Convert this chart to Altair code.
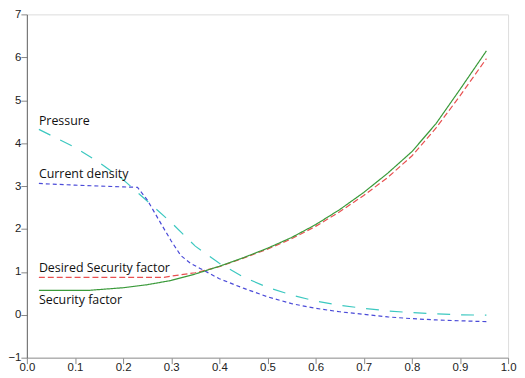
import altair as alt
import pandas as pd

# ---- data ----
pressure_x = [0.025, 0.1, 0.15, 0.2, 0.25, 0.3, 0.35, 0.4, 0.45, 0.5, 0.55, 0.6, 0.65, 0.7, 0.75, 0.8, 0.85, 0.9, 0.955]
pressure_y = [4.32, 3.9, 3.55, 3.15, 2.65, 2.15, 1.6, 1.2, 0.88, 0.64, 0.46, 0.32, 0.22, 0.15, 0.09, 0.05, 0.02, 0.0, -0.01]

current_x = [0.025, 0.1, 0.2, 0.23, 0.25, 0.28, 0.3, 0.32, 0.34, 0.36, 0.4, 0.45, 0.5, 0.55, 0.6, 0.65, 0.7, 0.75, 0.8, 0.85, 0.9, 0.955]
current_y = [3.06, 3.02, 2.98, 2.97, 2.68, 2.1, 1.72, 1.38, 1.2, 1.08, 0.84, 0.62, 0.42, 0.26, 0.15, 0.07, 0.01, -0.05, -0.09, -0.12, -0.14, -0.16]

desired_x = [0.025, 0.285, 0.3, 0.35, 0.4, 0.45, 0.5, 0.55, 0.6, 0.65, 0.7, 0.75, 0.8, 0.85, 0.9, 0.955]
desired_y = [0.87, 0.87, 0.9, 0.98, 1.12, 1.32, 1.53, 1.77, 2.06, 2.4, 2.78, 3.2, 3.7, 4.35, 5.1, 5.97]

security_x = [0.025, 0.13, 0.2, 0.25, 0.3, 0.35, 0.4, 0.45, 0.5, 0.55, 0.6, 0.65, 0.7, 0.75, 0.8, 0.85, 0.9, 0.955]
security_y = [0.57, 0.57, 0.63, 0.7, 0.8, 0.95, 1.13, 1.33, 1.55, 1.8, 2.1, 2.45, 2.85, 3.3, 3.8, 4.45, 5.25, 6.15]

series_names = ["Pressure", "Current density", "Desired Security factor", "Security factor"]
series_colors = ["#3cc8c0", "#4a4ad8", "#e85050", "#3a9a3a"]
series_dashes = [[13, 11], [4, 3], [6, 3], [1, 0]]

label_x = [0.025, 0.025, 0.025, 0.025]
label_y = [4.52, 3.28, 1.1, 0.35]

rows = []
for name, xs, ys in [
    ("Pressure", pressure_x, pressure_y),
    ("Current density", current_x, current_y),
    ("Desired Security factor", desired_x, desired_y),
    ("Security factor", security_x, security_y),
]:
    for i, (x, y) in enumerate(zip(xs, ys)):
        rows.append({"series": name, "x": x, "y": y, "order": i})
df = pd.DataFrame(rows)

labels = pd.DataFrame({"series": series_names, "x": label_x, "y": label_y})

x_ticks = [round(i * 0.05, 2) for i in range(21)]
y_ticks = [i * 0.5 for i in range(-2, 15)]

xscale = alt.Scale(domain=[0, 1], nice=False, zero=False)
yscale = alt.Scale(domain=[-1, 7], nice=False, zero=False)

xaxis = alt.Axis(
    values=x_ticks,
    title=None,
    grid=False,
    labelExpr="round(datum.value*20) % 2 === 0 ? format(datum.value, '.1f') : ''",
    tickSize={"condition": {"test": "round(datum.value*20) % 2 === 0", "value": 6}, "value": 4},
    domainColor="#999999",
    tickColor="#888888",
    labelFont="Liberation Sans",
    labelFontSize=11.5,
    labelColor="#222222",
    labelPadding=-2,
    labelFlush=False,
)
yaxis = alt.Axis(
    values=y_ticks,
    title=None,
    grid=False,
    labelExpr="datum.value % 1 === 0 ? format(datum.value, 'd') : ''",
    tickSize={"condition": {"test": "datum.value % 1 === 0", "value": 6}, "value": 4},
    domainColor="#666666",
    tickColor="#888888",
    labelFont="Liberation Sans",
    labelFontSize=11.5,
    labelColor="#222222",
    labelPadding=0,
    labelFlush=False,
)

color = alt.Color("series:N", scale=alt.Scale(domain=series_names, range=series_colors), legend=None)
dash = alt.StrokeDash("series:N", scale=alt.Scale(domain=series_names, range=series_dashes), legend=None)

lines = alt.Chart(df).mark_line(strokeWidth=1.2).encode(
    x=alt.X("x:Q", scale=xscale, axis=xaxis),
    y=alt.Y("y:Q", scale=yscale, axis=yaxis),
    color=color,
    strokeDash=dash,
    detail="series:N",
    order="order:Q",
)

texts = alt.Chart(labels).mark_text(
    align="left", baseline="middle", font="Open Sans", fontSize=12.5, color="#111111"
).encode(
    x=alt.X("x:Q", scale=xscale),
    y=alt.Y("y:Q", scale=yscale),
    text="series:N",
)

chart = (
    alt.layer(lines, texts)
    .properties(
        width=485,
        height=346,
        autosize=alt.AutoSizeParams(type="none"),
        padding={"left": 19, "top": 5, "right": 9, "bottom": 14},
    )
    .configure_view(stroke="#999999", strokeWidth=1.5)
    .configure(background="white")
)

chart.save("out.html", embed_options={"renderer": "svg", "actions": False})
